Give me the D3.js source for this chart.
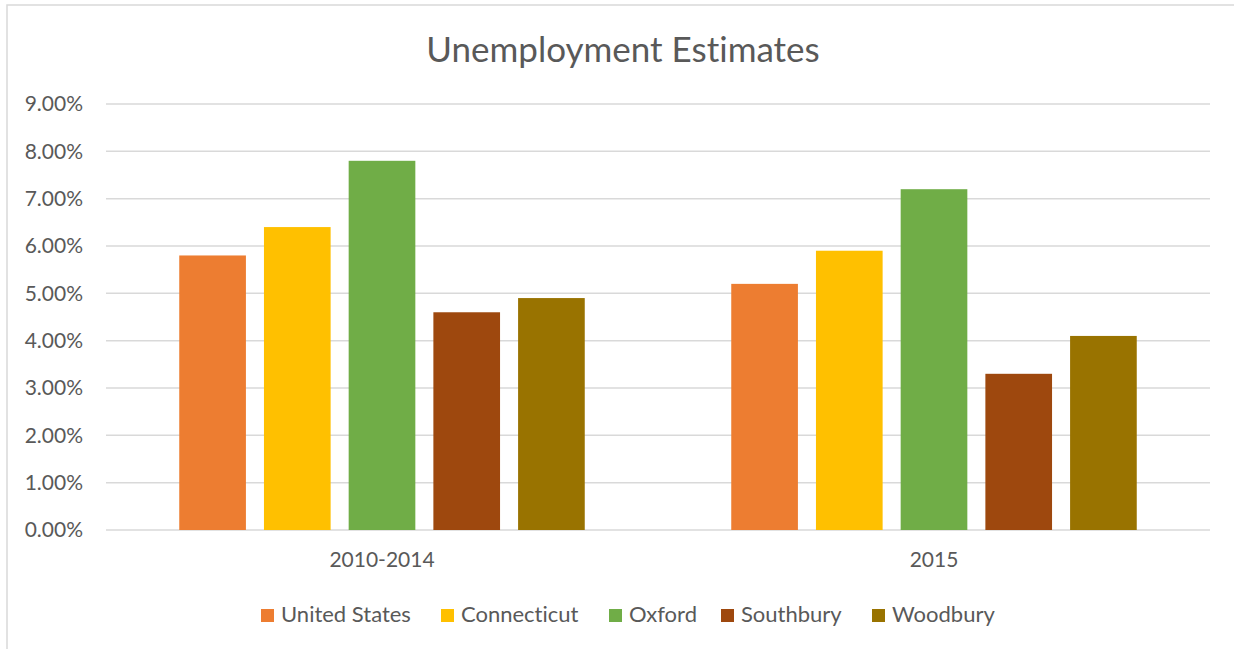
<!DOCTYPE html>
<html>
<head>
<meta charset="utf-8">
<script src="https://cdn.jsdelivr.net/npm/d3@7"></script>
<style>
  body { margin: 0; background: #fff; }
  text { font-family: Lato, "Noto Sans", sans-serif; fill: #595959; font-variant-ligatures: none; }
</style>
</head>
<body>
<svg id="chart" width="1234" height="649"></svg>
<script>
// data
var categories = ["2010-2014", "2015"]
var seriesNames = ["United States", "Connecticut", "Oxford", "Southbury", "Woodbury"]
var seriesColors = ["#ED7D31", "#FFC000", "#70AD47", "#9E480E", "#997300"]
var unitedStates = [5.8, 5.2]
var connecticut = [6.4, 5.9]
var oxford = [7.8, 7.2]
var southbury = [4.6, 3.3]
var woodbury = [4.9, 4.1]
var yTicks = [0, 1, 2, 3, 4, 5, 6, 7, 8, 9]

var seriesValues = [unitedStates, connecticut, oxford, southbury, woodbury]

var dimensions = {
    width: 1234,
    height: 649,
    margin: { top: 104, bottom: 119, right: 24, left: 106 }
}
dimensions.boundedWidth = dimensions.width - dimensions.margin.left - dimensions.margin.right
dimensions.boundedHeight = dimensions.height - dimensions.margin.top - dimensions.margin.bottom

var svg = d3.select("#chart")

// chart border
svg.append("rect")
    .attr("x", 7).attr("y", 5)
    .attr("width", 1240).attr("height", 660)
    .attr("fill", "none")
    .attr("stroke", "#d9d9d9")
    .attr("stroke-width", 1.5)

svg.append("text")
    .attr("x", 623).attr("y", 62)
    .attr("text-anchor", "middle")
    .style("font-size", "35px")
    .text("Unemployment Estimates")

var bounds = svg.append("g")
    .attr("transform", "translate(" + dimensions.margin.left + "," + dimensions.margin.top + ")")

var xScale = d3.scaleBand()
    .domain(categories)
    .range([0, dimensions.boundedWidth])

var groupWidth = 405.5
var xInner = d3.scaleBand()
    .domain(seriesNames)
    .range([0, groupWidth])
    .paddingInner(0.213)

var yScale = d3.scaleLinear()
    .domain([0, 9])
    .range([dimensions.boundedHeight, 0])

// gridlines
bounds.append("g")
    .selectAll("line")
    .data(yTicks)
    .enter()
    .append("line")
    .attr("x1", 0).attr("x2", dimensions.boundedWidth)
    .attr("y1", d => yScale(d)).attr("y2", d => yScale(d))
    .attr("stroke", "#d9d9d9")
    .attr("stroke-width", 1.5)

// y axis labels
var yAxis = bounds.append("g")
    .call(d3.axisLeft(yScale).tickValues(yTicks).tickSize(0).tickPadding(23)
        .tickFormat(d => d.toFixed(2) + "%"))
yAxis.select(".domain").remove()
yAxis.selectAll("text").style("font-size", "21px").attr("fill", "#595959")

// x axis labels
var xAxis = bounds.append("g")
    .attr("transform", "translate(0," + dimensions.boundedHeight + ")")
    .call(d3.axisBottom(xScale).tickSize(0).tickPadding(22))
xAxis.select(".domain").remove()
xAxis.selectAll("text").style("font-size", "21px").attr("fill", "#595959")

// bars
var groups = bounds.selectAll(".grp")
    .data(categories)
    .enter()
    .append("g")
    .attr("transform", d => "translate(" + (xScale(d) + (xScale.bandwidth() - groupWidth) / 2) + ",0)")

groups.selectAll("rect")
    .data((d, i) => seriesNames.map((s, j) => ({ name: s, value: seriesValues[j][i], color: seriesColors[j] })))
    .enter()
    .append("rect")
    .attr("x", d => xInner(d.name))
    .attr("width", xInner.bandwidth())
    .attr("y", d => yScale(d.value))
    .attr("height", d => yScale(0) - yScale(d.value))
    .attr("fill", d => d.color)

// legend
var legendX = [261, 441, 609, 721, 872]
var legend = svg.append("g")
    .selectAll("g")
    .data(seriesNames)
    .enter()
    .append("g")
    .attr("transform", (d, i) => "translate(" + legendX[i] + ",609)")

legend.append("rect")
    .attr("width", 13).attr("height", 13)
    .attr("fill", (d, i) => seriesColors[i])

legend.append("text")
    .attr("x", 20).attr("y", 13)
    .style("font-size", "22px")
    .text(d => d)
</script>
</body>
</html>
